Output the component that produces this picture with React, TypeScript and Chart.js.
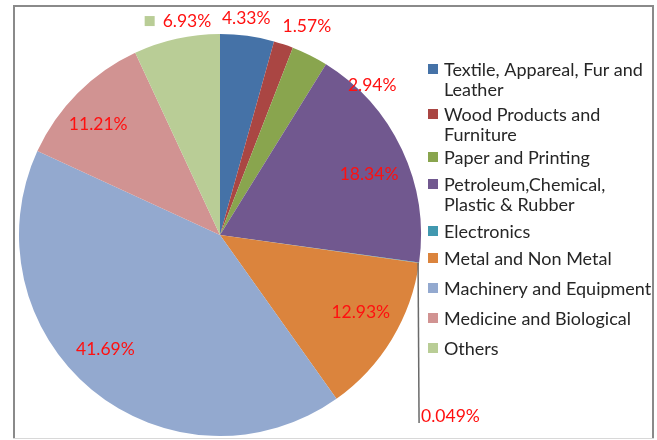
import React, { useEffect, useRef } from 'react';
import { Chart, registerables } from 'chart.js';

Chart.register(...registerables);

const categories = [
  'Textile, Appareal, Fur and Leather',
  'Wood Products and Furniture',
  'Paper and Printing',
  'Petroleum,Chemical, Plastic & Rubber',
  'Electronics',
  'Metal and Non Metal',
  'Machinery and Equipment',
  'Medicine and Biological',
  'Others',
];
const legendLines = [
  ['Textile, Appareal, Fur and', 'Leather'],
  ['Wood Products and', 'Furniture'],
  ['Paper and Printing'],
  ['Petroleum,Chemical,', 'Plastic & Rubber'],
  ['Electronics'],
  ['Metal and Non Metal'],
  ['Machinery and Equipment'],
  ['Medicine and Biological'],
  ['Others'],
];
const shares = [4.33, 1.57, 2.94, 18.34, 0.049, 12.93, 41.69, 11.21, 6.93];
const percentLabels = ['4.33%', '1.57%', '2.94%', '18.34%', '0.049%', '12.93%', '41.69%', '11.21%', '6.93%'];
const colors = ['#4572A7', '#AA4643', '#89A54E', '#71588F', '#4198AF', '#DB843D', '#93A9CF', '#D19392', '#B9CD96'];

// label placement: [angle shift from slice middle (deg), radius factor]
const labelPlacement: [number, number][] = [
  [-0.9, 1.085],
  [4.2, 1.124],
  [18.9, 1.063],
  [3.1, 0.8],
  [0, 0],
  [-2.4, 0.8],
  [5.4, 0.806],
  [-2.5, 0.82],
  [3.7, 1.077],
];
const legendRowY = [69, 114, 157, 184, 231, 258, 288, 318, 348];
const FONT = 'Lato, "Open Sans", sans-serif';

const decorPlugin = {
  id: 'decor',
  afterDraw(chart: any) {
    const ctx = chart.ctx as CanvasRenderingContext2D;
    ctx.save();
    // frame
    ctx.fillStyle = '#8a8a8a';
    ctx.fillRect(13, 5, 640, 2);
    ctx.fillRect(13, 5, 2, 434);
    ctx.fillRect(652, 5, 2, 434);
    ctx.fillStyle = '#d8d8d8';
    ctx.fillRect(13, 438, 641, 1);

    // data labels
    const meta = chart.getDatasetMeta(0);
    ctx.font = `17.5px ${FONT}`;
    ctx.fillStyle = '#FF1010';
    meta.data.forEach((arc: any, i: number) => {
      const p = arc.getProps(['x', 'y', 'startAngle', 'endAngle', 'outerRadius'], true);
      const mid = (p.startAngle + p.endAngle) / 2;
      if (i === 4) {
        const ex = p.x + Math.cos(mid) * p.outerRadius;
        const ey = p.y + Math.sin(mid) * p.outerRadius;
        const by = p.y + 0.935 * p.outerRadius;
        ctx.strokeStyle = '#6a6a6a';
        ctx.lineWidth = 1.5;
        ctx.beginPath();
        ctx.moveTo(ex - 1, ey);
        ctx.lineTo(ex, by);
        ctx.stroke();
        ctx.textAlign = 'left';
        ctx.textBaseline = 'alphabetic';
        ctx.fillStyle = '#FF1010';
        ctx.fillText(percentLabels[i], ex + 2, by - 1);
        return;
      }
      const [dA, rf] = labelPlacement[i];
      const a = mid + (dA * Math.PI) / 180;
      const lx = p.x + Math.cos(a) * p.outerRadius * rf;
      const ly = p.y + Math.sin(a) * p.outerRadius * rf;
      ctx.textAlign = 'center';
      ctx.textBaseline = 'middle';
      ctx.fillStyle = '#FF1010';
      ctx.fillText(percentLabels[i], lx, ly);
      if (i === 8) {
        const w = ctx.measureText(percentLabels[i]).width;
        ctx.fillStyle = colors[i];
        ctx.fillRect(lx - w / 2 - 18, ly - 5, 10, 10);
      }
    });

    // legend
    ctx.font = `18px ${FONT}`;
    ctx.textAlign = 'left';
    ctx.textBaseline = 'middle';
    legendLines.forEach((lines, i) => {
      const y0 = legendRowY[i];
      ctx.fillStyle = colors[i];
      ctx.fillRect(428, y0 - 5, 10, 10);
      ctx.fillStyle = '#262626';
      lines.forEach((t, k) => ctx.fillText(t, 444, y0 + k * 20 + 1));
    });
    ctx.restore();
  },
};

export default function App() {
  const ref = useRef<HTMLCanvasElement>(null);
  useEffect(() => {
    if (!ref.current) return;
    const chart = new Chart(ref.current, {
      type: 'pie',
      data: {
        labels: categories,
        datasets: [
          {
            data: shares,
            backgroundColor: colors,
            borderWidth: 0,
          },
        ],
      },
      options: {
        animation: false,
        responsive: false,
        layout: { padding: { left: 19, right: 236, top: 34, bottom: 4 } },
        plugins: { legend: { display: false }, tooltip: { enabled: false } },
      },
      plugins: [decorPlugin],
    });
    return () => chart.destroy();
  }, []);
  return (
    <div style={{ position: 'absolute', left: 0, top: 0, width: 657, height: 440, background: '#fff' }}>
      <canvas ref={ref} width={657} height={440} style={{ display: 'block' }} />
    </div>
  );
}
